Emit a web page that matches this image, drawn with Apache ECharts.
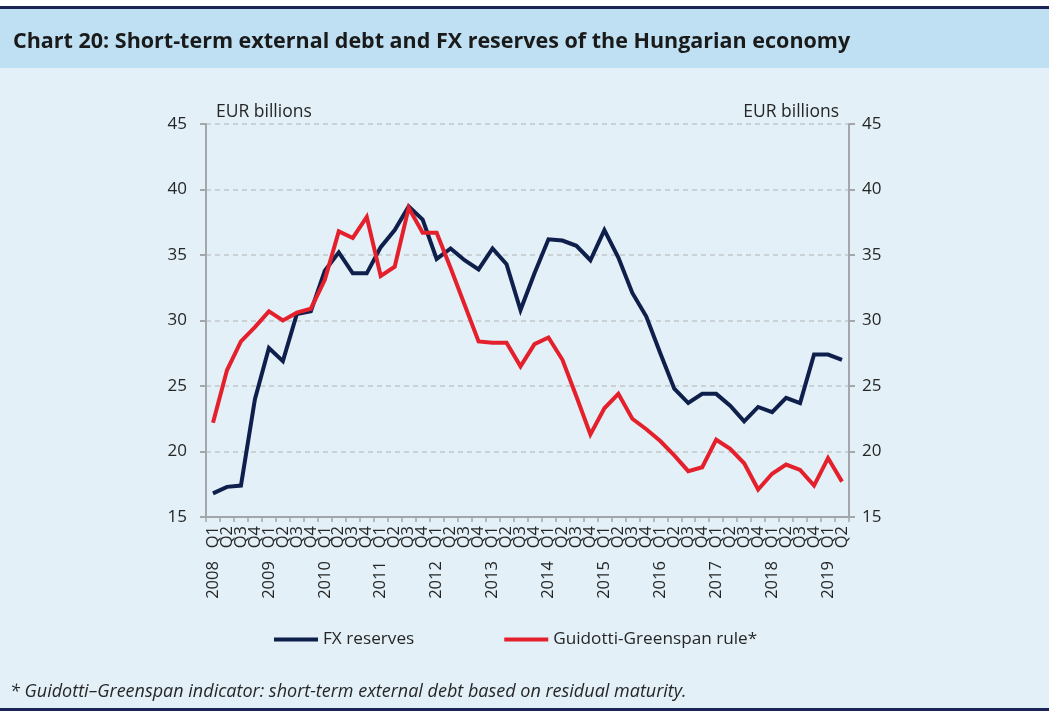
<!DOCTYPE html>
<html>
<head>
<meta charset="utf-8">
<script src="https://cdn.jsdelivr.net/npm/echarts@6/dist/echarts.min.js"></script>
<style>
  html, body { margin: 0; padding: 0; width: 1049px; height: 711px; overflow: hidden; background: #ffffff; }
  #bg { position: absolute; left: 0; top: 0; width: 1049px; height: 711px; }
  #topline { position: absolute; left: 0; top: 6px; width: 1049px; height: 3px; background: #1b2455; }
  #head { position: absolute; left: 0; top: 9px; width: 1049px; height: 59px; background: #bee0f2; }
  #body { position: absolute; left: 0; top: 68px; width: 1049px; height: 640px; background: #e3f0f7; }
  #botline { position: absolute; left: 0; top: 708px; width: 1049px; height: 3px; background: #1b2455; }
  #chart { position: absolute; left: 0; top: 0; width: 1049px; height: 711px; }
</style>
</head>
<body>
<div id="bg"><div id="topline"></div><div id="head"></div><div id="body"></div><div id="botline"></div></div>
<div id="chart"></div>
<script>
const years = ['2008','2009','2010','2011','2012','2013','2014','2015','2016','2017','2018','2019'];
const quarters = ['Q1','Q2','Q3','Q4'];
const categories = [];
years.forEach(function (y) {
  quarters.forEach(function (q) {
    if (y === '2019' && (q === 'Q3' || q === 'Q4')) return;
    categories.push(q === 'Q1' ? y + '   ' + q : q);
  });
});

const fxReserves = [
  16.8, 17.3, 17.4, 24.0, 27.9, 26.9, 30.5, 30.7,
  33.8, 35.2, 33.6, 33.6, 35.6, 36.9, 38.7, 37.7,
  34.7, 35.5, 34.6, 33.9, 35.5, 34.3, 30.8, 33.6,
  36.2, 36.1, 35.7, 34.6, 36.9, 34.8, 32.1, 30.3,
  27.5, 24.8, 23.7, 24.4, 24.4, 23.5, 22.3, 23.4,
  23.0, 24.1, 23.7, 27.4, 27.4, 27.0
];
const guidottiGreenspan = [
  22.2, 26.2, 28.4, 29.5, 30.7, 30.0, 30.6, 30.9,
  33.1, 36.8, 36.3, 37.9, 33.4, 34.1, 38.6, 36.7,
  36.7, 34.0, 31.2, 28.4, 28.3, 28.3, 26.5, 28.2,
  28.7, 27.0, 24.2, 21.3, 23.3, 24.4, 22.5, 21.7,
  20.8, 19.7, 18.5, 18.8, 20.9, 20.2, 19.1, 17.1,
  18.3, 19.0, 18.6, 17.4, 19.5, 17.7
];
const seriesNames = ['FX reserves', 'Guidotti-Greenspan rule*'];
const titleText = 'Chart 20: Short-term external debt and FX reserves of the Hungarian economy';
const unitText = 'EUR billions';
const noteText = '* Guidotti\u2013Greenspan indicator: short-term external debt based on residual maturity.';

const FONT = '"Open Sans", Lato, sans-serif';
const TXT = '#262626';
const AXIS = '#a3a6aa';

const chart = echarts.init(document.getElementById('chart'), null, { renderer: 'canvas' });

const yAxisCommon = {
  type: 'value', min: 15, max: 45, interval: 5,
  axisLine: { show: true, lineStyle: { color: AXIS, width: 2 } },
  axisTick: { show: true, length: 6, lineStyle: { color: AXIS, width: 2 } },
  axisLabel: { color: TXT, fontFamily: FONT, fontSize: 17 },
  name: unitText, nameGap: 3,
  nameTextStyle: { color: TXT, fontFamily: FONT, fontSize: 17.5 }
};

chart.setOption({
  animation: false,
  backgroundColor: 'transparent',
  title: [
    { text: titleText, left: 8, top: 26,
      textStyle: { color: '#1a1a1a', fontFamily: FONT, fontWeight: 'bold', fontSize: 21.5 } },
    { text: noteText, left: 5, top: 678,
      textStyle: { color: TXT, fontFamily: FONT, fontStyle: 'italic', fontWeight: 'normal', fontSize: 18 } }
  ],
  legend: {
    left: 269, top: 626, itemGap: 90, itemWidth: 44, itemHeight: 4,
    icon: 'rect',
    textStyle: { color: TXT, fontFamily: FONT, fontSize: 17.2 },
    data: seriesNames
  },
  grid: { left: 206, right: 200, top: 124, bottom: 194, containLabel: false },
  xAxis: {
    type: 'category', data: categories, boundaryGap: true,
    axisLine: { show: true, lineStyle: { color: AXIS, width: 2 } },
    axisTick: { show: true, length: 5, interval: 0, lineStyle: { color: AXIS, width: 1.5 } },
    axisLabel: { interval: 0, rotate: 90, color: TXT, fontFamily: FONT, fontSize: 16.5, margin: 9 }
  },
  yAxis: [
    Object.assign({}, yAxisCommon, {
      position: 'left',
      nameLocation: 'end',
      axisLabel: Object.assign({}, yAxisCommon.axisLabel, { margin: 19 }),
      nameTextStyle: Object.assign({}, yAxisCommon.nameTextStyle, { align: 'left', padding: [0, 0, 0, 10] }),
      splitLine: { show: true, lineStyle: { color: '#c4c7ca', type: [5, 4], width: 1.5 } }
    }),
    Object.assign({}, yAxisCommon, {
      position: 'right',
      nameLocation: 'end',
      axisLabel: Object.assign({}, yAxisCommon.axisLabel, { margin: 13 }),
      nameTextStyle: Object.assign({}, yAxisCommon.nameTextStyle, { align: 'right', padding: [0, 10, 0, 0] }),
      splitLine: { show: false }
    })
  ],
  series: [
    { name: seriesNames[0], type: 'line', data: fxReserves, yAxisIndex: 0,
      symbol: 'none', itemStyle: { color: '#0f1f4b' },
      lineStyle: { color: '#0f1f4b', width: 4, join: 'miter' } },
    { name: seriesNames[1], type: 'line', data: guidottiGreenspan, yAxisIndex: 1,
      symbol: 'none', itemStyle: { color: '#e3202b' },
      lineStyle: { color: '#e3202b', width: 4, join: 'miter' } }
  ]
});
</script>
</body>
</html>
